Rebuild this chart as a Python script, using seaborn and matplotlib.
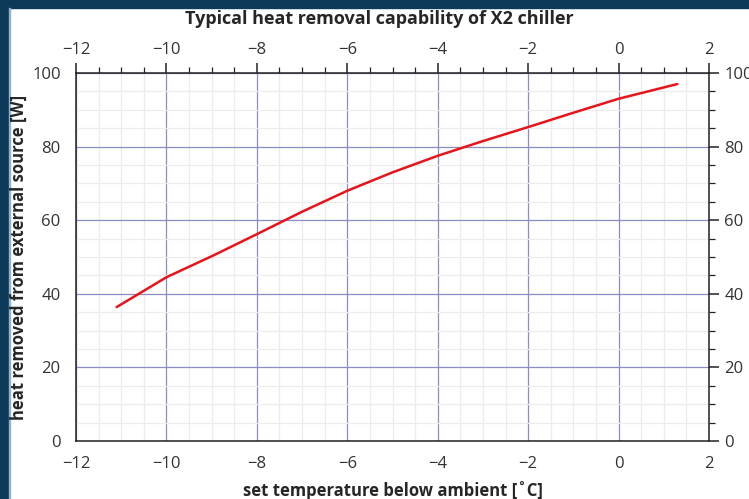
import matplotlib.pyplot as plt
import matplotlib.patches as mpatches
from matplotlib.ticker import MultipleLocator
import pandas as pd
import seaborn as sns

# values
temp_below_ambient = [-11.1, -10.0, -9.0, -8.0, -7.0, -6.0, -5.0, -4.0, -3.0, -2.0, -1.0, 0.0, 1.3]
heat_removed = [36.4, 44.5, 50.2, 56.2, 62.3, 68.0, 73.0, 77.5, 81.5, 85.3, 89.2, 93.0, 97.0]

x_ticks = [-12, -10, -8, -6, -4, -2, 0, 2]
y_ticks = [0, 20, 40, 60, 80, 100]

df = pd.DataFrame({'temp': temp_below_ambient, 'heat': heat_removed})

sns.set_style('white')
plt.rcParams['font.family'] = ['Open Sans', 'DejaVu Sans']

fig = plt.figure(figsize=(7.49, 4.99), dpi=100)
fig.patch.set_facecolor('white')

# dark frame of the screenshot (top and left strip)
fig.patches.append(mpatches.Rectangle((0, 1 - 8 / 499), 1, 8 / 499, transform=fig.transFigure,
                                      color='#0c3a58', zorder=-5))
fig.patches.append(mpatches.Rectangle((0, 0), 9 / 749, 1, transform=fig.transFigure,
                                      color='#0c3a58', zorder=-5))
fig.patches.append(mpatches.Rectangle((9 / 749, 0), 1.2 / 749, 1 - 8 / 499, transform=fig.transFigure,
                                      color='#8fb4cf', zorder=-4))

ax = fig.add_axes([76 / 749, 58 / 499, 633 / 749, 368 / 499])

sns.lineplot(data=df, x='temp', y='heat', ax=ax, color='#e8141c', linewidth=1.8, zorder=5)

ax.set_xlim(-12, 2)
ax.set_ylim(0, 100)
ax.set_xticks(x_ticks)
ax.set_yticks(y_ticks)
ax.xaxis.set_minor_locator(MultipleLocator(0.5))
ax.yaxis.set_minor_locator(MultipleLocator(5))

ax.grid(which='minor', color='#ececec', linewidth=0.9)
ax.grid(which='major', color='#8c8cc4', linewidth=0.9)
ax.set_axisbelow(True)

ax.tick_params(which='both', top=True, right=True, labeltop=True, labelright=True,
               direction='out', colors='#222222', labelcolor='#333333', labelsize=12)
ax.tick_params(which='major', length=7, width=1.1, pad=4)
ax.tick_params(which='minor', length=4, width=0.9)
for side in ['left', 'right', 'top', 'bottom']:
    ax.spines[side].set_visible(True)
    ax.spines[side].set_color('#222222')
    ax.spines[side].set_linewidth(1.1)

ax.set_xlabel('set temperature below ambient [˚C]', fontsize=12, fontweight='bold', labelpad=6)
ax.set_ylabel('heat removed from external source [W]', fontsize=12, fontweight='bold')
ax.yaxis.set_label_coords(-0.076, 0.5)
ax.set_title('Typical heat removal capability of X2 chiller', fontsize=13, fontweight='bold',
             pad=35, x=0.48)

fig.savefig('out.png', dpi=100)
